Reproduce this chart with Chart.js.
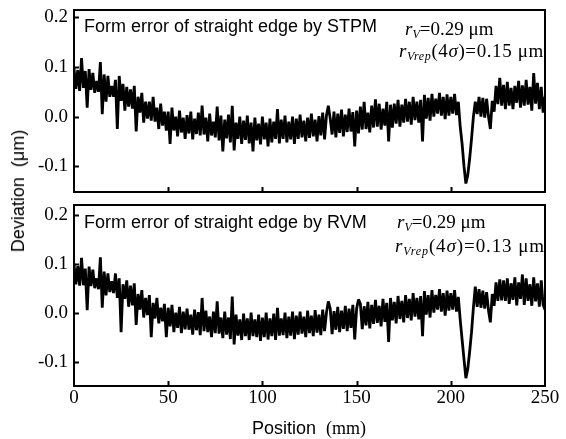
<!DOCTYPE html>
<html><head><meta charset="utf-8">
<script src="https://cdn.jsdelivr.net/npm/chart.js@4/dist/chart.umd.min.js"></script>
<style>
html,body{margin:0;padding:0;background:#fff;}
#wrap{position:relative;width:566px;height:439px;overflow:hidden;background:#fff;}
canvas{position:absolute;left:0;}
.t{position:absolute;white-space:nowrap;color:#000;line-height:1;}
.sans{font-family:"Liberation Sans",Arial,sans-serif;}
.serif{font-family:"Liberation Serif","Times New Roman",serif;}
.sub{font-size:12px;font-style:italic;position:relative;top:3px;}
.wide{letter-spacing:0.6px;}
</style></head><body>
<div id="wrap">
<canvas id="c1" width="566" height="200" style="top:0;width:566px;height:200px"></canvas>
<canvas id="c2" width="566" height="239" style="top:200px;width:566px;height:239px"></canvas>

<div class="t sans" style="left:84px;top:17px;font-size:18px;">Form error of straight edge by STPM</div>
<div class="t serif" style="left:405px;top:19px;font-size:19px;"><i>r</i><span class="sub">V</span>=0.29 μm</div>
<div class="t serif wide" style="left:399px;top:41px;font-size:19px;"><i>r</i><span class="sub">Vrep</span>(4<i>σ</i>)=0.15 μm</div>

<div class="t sans" style="left:84px;top:213px;font-size:18px;">Form error of straight edge by RVM</div>
<div class="t serif" style="left:397px;top:212px;font-size:19px;"><i>r</i><span class="sub">V</span>=0.29 μm</div>
<div class="t serif wide" style="left:395px;top:236px;font-size:19px;letter-spacing:0.9px;"><i>r</i><span class="sub">Vrep</span>(4<i>σ</i>)=0.13 μm</div>

<div class="t" style="left:18px;top:191px;transform:translate(-50%,-50%) rotate(-90deg);font-size:18px;"><span class="sans">Deviation&nbsp;&nbsp;</span><span class="sans">(μm)</span></div>
<div class="t" style="left:309px;top:428px;transform:translate(-50%,-50%);font-size:18px;"><span class="sans">Position&nbsp;&nbsp;</span><span class="serif">(mm)</span></div>
</div>
<script>
// Position axis: samples every 1 mm from 0 to 250 mm
const positionStart = 0;
const positionStep = 1;
const xTicks = [0, 50, 100, 150, 200, 250];
const yTicks = [-0.1, 0.0, 0.1, 0.2];

// Form error measured by STPM (μm)
const stpm = [
 0.098, 0.056, 0.094, 0.052, 0.118, 0.058, 0.092, 0.018, 0.096, 0.054,
 0.088, 0.048, 0.072, 0.050, 0.110, 0.005, 0.085, 0.030, 0.082, 0.040,
 0.062, 0.040, 0.074, -0.025, 0.082, 0.032, 0.066, 0.012, 0.060, 0.020,
 0.055, 0.016, 0.062, -0.030, 0.040, 0.008, 0.048, -0.012, 0.030, -0.004,
 0.030, -0.008, 0.040, -0.010, 0.018, -0.025, 0.026, -0.018, 0.010, -0.028,
 0.010, -0.055, 0.018, -0.028, 0.000, -0.040, 0.012, -0.032, -0.002, -0.045,
 0.003, -0.034, 0.010, -0.046, -0.004, -0.035, 0.008, -0.038, 0.022, -0.036,
 -0.002, -0.050, 0.006, -0.038, -0.010, -0.042, 0.020, -0.048, 0.002, -0.070,
 -0.006, -0.044, 0.004, -0.052, 0.022, -0.068, -0.012, -0.045, 0.000, -0.055,
 -0.008, -0.047, 0.002, -0.054, -0.012, -0.070, -0.002, -0.048, -0.014, -0.056,
 0.000, -0.046, -0.012, -0.060, -0.004, -0.052, -0.010, -0.045, 0.015, -0.054,
 -0.006, -0.045, 0.002, -0.052, -0.010, -0.046, 0.000, -0.055, -0.004, -0.045,
 0.004, -0.042, -0.008, -0.050, -0.002, -0.043, 0.006, -0.040, -0.006, -0.050,
 0.001, -0.038, 0.008, -0.046, 0.002, 0.022, -0.004, -0.036, 0.010, -0.042,
 0.006, -0.033, 0.014, -0.040, 0.004, -0.031, 0.016, -0.030, 0.009, -0.060,
 0.012, -0.034, 0.020, -0.026, 0.030, -0.025, 0.008, -0.032, 0.022, -0.022,
 0.035, -0.020, 0.026, -0.026, 0.016, -0.018, 0.030, -0.050, 0.024, -0.022,
 0.026, -0.014, 0.034, -0.020, 0.024, -0.012, 0.036, -0.010, 0.030, -0.016,
 0.040, -0.007, 0.030, -0.012, 0.034, -0.050, 0.044, -0.004, 0.038, -0.008,
 0.046, 0.000, 0.036, 0.006, 0.048, 0.002, 0.040, -0.005, 0.045, 0.002,
 0.040, 0.006, 0.046, 0.003, 0.030, -0.020, -0.055, -0.100, -0.135, -0.118,
 -0.085, -0.045, 0.000, 0.030, 0.005, 0.040, 0.000, 0.038, -0.002, 0.036,
 0.000, -0.025, 0.032, 0.010, 0.062, 0.025, 0.078, 0.022, 0.064, 0.015,
 0.070, 0.022, 0.058, 0.015, 0.062, 0.028, 0.072, 0.018, 0.063, 0.022,
 0.074, 0.024, 0.060, 0.012, 0.088, 0.026, 0.068, 0.015, 0.060, 0.008,
 0.040
];

// Form error measured by RVM (μm)
const rvm = [
 0.100, 0.058, 0.095, 0.055, 0.112, 0.056, 0.090, 0.005, 0.094, 0.054,
 0.088, 0.050, 0.070, 0.048, 0.113, 0.010, 0.084, 0.035, 0.080, 0.042,
 0.064, 0.040, 0.080, 0.030, 0.070, -0.040, 0.058, 0.028, 0.066, 0.012,
 0.055, 0.015, 0.060, -0.025, 0.038, 0.006, 0.046, -0.010, 0.030, -0.005,
 0.036, -0.050, 0.020, -0.012, 0.030, -0.022, 0.010, -0.018, 0.018, -0.050,
 0.010, -0.028, 0.016, -0.040, 0.000, -0.031, 0.012, -0.042, 0.002, -0.034,
 0.008, -0.035, -0.004, -0.045, 0.006, -0.036, 0.001, -0.046, 0.030, -0.038,
 0.004, -0.040, -0.008, -0.050, 0.002, -0.042, 0.023, -0.043, -0.010, -0.052,
 0.002, -0.045, -0.010, -0.054, 0.033, -0.065, -0.004, -0.047, -0.014, -0.056,
 -0.002, -0.048, -0.012, -0.056, 0.000, -0.048, -0.014, -0.050, -0.004, -0.058,
 -0.010, -0.050, 0.000, -0.055, -0.012, -0.048, -0.002, -0.056, 0.010, -0.047,
 -0.012, -0.046, 0.000, -0.052, -0.008, -0.047, 0.002, -0.054, -0.006, -0.045,
 0.002, -0.043, -0.008, -0.050, 0.004, -0.042, -0.006, -0.048, 0.005, -0.041,
 -0.004, -0.046, 0.006, -0.038, 0.000, 0.023, 0.008, -0.044, 0.003, -0.035,
 0.012, -0.040, 0.004, -0.033, 0.014, -0.038, 0.008, -0.031, 0.016, -0.055,
 0.008, 0.027, 0.018, -0.034, 0.013, -0.026, 0.022, -0.032, 0.016, -0.023,
 0.026, -0.021, 0.014, -0.028, 0.028, -0.019, 0.020, -0.060, 0.030, -0.016,
 0.022, -0.022, 0.034, -0.013, 0.024, -0.020, 0.036, -0.011, 0.028, -0.016,
 0.040, -0.008, 0.030, -0.014, 0.034, -0.048, 0.044, -0.004, 0.036, -0.010,
 0.046, 0.000, 0.036, 0.006, 0.048, 0.002, 0.040, -0.006, 0.045, 0.004,
 0.040, 0.006, 0.046, 0.002, 0.032, -0.015, -0.055, -0.095, -0.134, -0.115,
 -0.080, -0.040, 0.010, 0.053, 0.012, 0.048, 0.010, 0.045, 0.008, 0.042,
 0.005, -0.020, 0.038, 0.014, 0.062, 0.024, 0.068, 0.025, 0.066, 0.024,
 0.070, 0.018, 0.060, 0.026, 0.072, 0.015, 0.062, 0.028, 0.078, 0.016,
 0.070, 0.024, 0.058, 0.014, 0.072, 0.023, 0.060, 0.012, 0.066, 0.016,
 0.006
];

const framePlugin = {
  id: 'frame',
  afterDatasetsDraw(chart) {
    const a = chart.chartArea, ctx = chart.ctx;
    const xs = chart.scales.x, ys = chart.scales.y;
    ctx.save();
    ctx.strokeStyle = '#000';
    ctx.lineWidth = 2;
    ctx.strokeRect(a.left, a.top, a.right - a.left, a.bottom - a.top);
    ctx.beginPath();
    xTicks.forEach(v => {
      if (v <= xs.min || v >= xs.max) return;
      const px = Math.round(xs.getPixelForValue(v)) + 0.5;
      ctx.moveTo(px, a.bottom); ctx.lineTo(px, a.bottom - 5);
    });
    yTicks.forEach(v => {
      const py = Math.round(ys.getPixelForValue(v)) + 0.5;
      ctx.moveTo(a.left, py); ctx.lineTo(a.left + 5, py);
    });
    ctx.lineWidth = 2;
    ctx.stroke();
    ctx.restore();
  }
};

function makeChart(id, series, yMin, yMax, showX, padTop, xAxisH) {
  return new Chart(document.getElementById(id), {
    type: 'line',
    data: {
      datasets: [{
        data: series.map((v, i) => ({ x: positionStart + i * positionStep, y: v })),
        borderColor: '#000', borderWidth: 2.8, pointRadius: 0, tension: 0, fill: false,
        borderJoinStyle: 'bevel', borderCapStyle: 'butt'
      }]
    },
    options: {
      responsive: false, animation: false, maintainAspectRatio: false,
      layout: { padding: { top: padTop, right: 21, left: 0, bottom: 0 } },
      plugins: { legend: { display: false }, tooltip: { enabled: false } },
      scales: {
        x: {
          type: 'linear', min: 0, max: 250,
          afterBuildTicks: s => { s.ticks = xTicks.map(v => ({ value: v })); },
          grid: { display: false, drawTicks: false }, border: { display: false },
          ticks: { display: showX, color: '#000', padding: 3, maxRotation: 0, autoSkip: false,
                   font: { family: 'Liberation Serif', size: 19, lineHeight: 1 } },
          afterFit: s => { s.height = xAxisH; s.paddingLeft = 0; s.paddingRight = 0; s.paddingTop = 0; s.paddingBottom = 0; }
        },
        y: {
          min: yMin, max: yMax,
          afterBuildTicks: s => { s.ticks = yTicks.map(v => ({ value: v })); },
          grid: { display: false, drawTicks: false }, border: { display: false },
          ticks: { color: '#000', padding: 6, callback: v => v.toFixed(1),
                   font: { family: 'Liberation Serif', size: 19, lineHeight: 1 } },
          afterFit: s => { s.width = 74; s.paddingLeft = 0; s.paddingRight = 0; s.paddingTop = 0; s.paddingBottom = 0; }
        }
      }
    },
    plugins: [framePlugin]
  });
}

makeChart('c1', stpm, -0.152, 0.215, false, 10, 8);
makeChart('c2', rvm, -0.150, 0.220, true, 5, 53);
</script>
</body></html>
